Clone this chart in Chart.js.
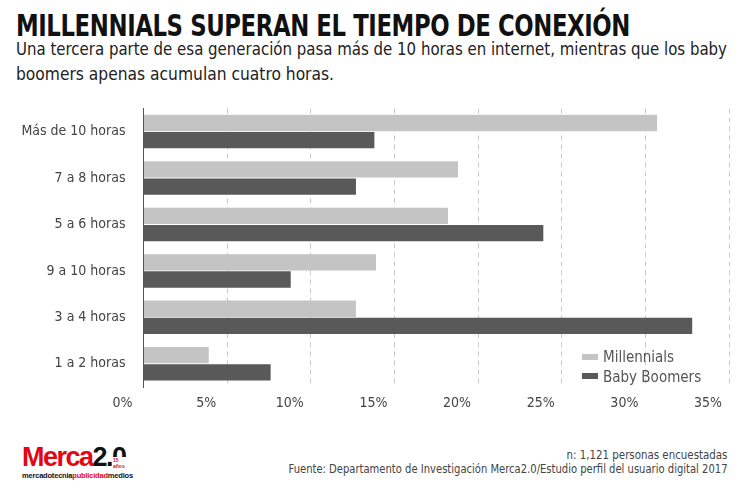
<!DOCTYPE html>
<html>
<head>
<meta charset="utf-8">
<script src="https://cdn.jsdelivr.net/npm/chart.js@4.4.1/dist/chart.umd.min.js"></script>
<style>
  body { margin: 0; background: #fff; width: 751px; height: 491px; overflow: hidden; position: relative; font-family: "DejaVu Sans Condensed", sans-serif; }
  .fit { position: absolute; white-space: nowrap; transform-origin: left top; }
  #title { left: 16px; top: 7px; font-size: 31px; font-weight: 900; color: #111; letter-spacing: -0.5px; }
  .sub { left: 16px; font-size: 18px; color: #222; }
  #wrap { position: absolute; left: 0; top: 90px; width: 751px; height: 322px; }
  #legend { position: absolute; left: 582px; top: 348px; font-family: "DejaVu Sans Condensed", sans-serif; font-size: 15px; color: #555; }
  #legend div { height: 19.5px; line-height: 19.5px; }
  #legend span { display: inline-block; width: 16px; height: 6px; margin-right: 5px; vertical-align: middle; position: relative; top: -1px; }
  .foot { right: 24px; font-size: 12.5px; color: #444; transform-origin: right top; }
  #logo { position: absolute; left: 22px; top: 444px; width: 110px; font-family: "Liberation Sans", Arial, sans-serif; }
  #logo .big { font-size: 27px; font-weight: bold; letter-spacing: -1.5px; line-height: 27px; color: #e30613; }
  #logo .big b { color: #111; }
  #logo .badge { position: absolute; left: 90px; top: 13px; font-size: 5px; font-weight: bold; color: #e30613; background: #fff; padding: 0 1px; }
  #logo .small { font-size: 7.5px; font-weight: bold; color: #111; letter-spacing: -0.2px; }
  #logo .small i { font-style: normal; color: #e30613; }
</style>
</head>
<body>
<div id="title" class="fit" data-w="614">MILLENNIALS SUPERAN EL TIEMPO DE CONEXIÓN</div>
<div class="fit sub" style="top:38px" data-w="711">Una tercera parte de esa generación pasa más de 10 horas en internet, mientras que los baby</div>
<div class="fit sub" style="top:63px" data-w="318">boomers apenas acumulan cuatro horas.</div>

<div id="wrap"><canvas id="chart"></canvas></div>

<div id="legend">
  <div><span style="background:#c4c4c4"></span>Millennials</div>
  <div><span style="background:#595959"></span>Baby Boomers</div>
</div>

<div id="logo">
  <div class="big">Merca<b>2.0</b></div>
  <div class="badge">15 años</div>
  <div class="small">mercadotecnia<i>publicidad</i>medios</div>
</div>

<div class="fit foot" style="top:447px" data-w="161">n: 1,121 personas encuestadas</div>
<div class="fit foot" style="top:461px" data-w="439">Fuente: Departamento de Investigación Merca2.0/Estudio perfil del usuario digital 2017</div>

<script>
const categories = ["Más de 10 horas", "7 a 8 horas", "5 a 6 horas", "9 a 10 horas", "3 a 4 horas", "1 a 2 horas"];
const millennials = [30.7, 18.8, 18.2, 13.9, 12.7, 3.9];
const babyBoomers = [13.8, 12.7, 23.9, 8.8, 32.8, 7.6];
const xTicks = [0, 5, 10, 15, 20, 25, 30, 35];

// squeeze the text to the widths measured on the picture
document.querySelectorAll('.fit').forEach(el => {
  const target = parseFloat(el.dataset.w);
  const w = el.getBoundingClientRect().width;
  el.style.transform = 'scaleX(' + (target / w) + ')';
});

const labelFont = "'DejaVu Sans Condensed', sans-serif";

const ctx = document.getElementById('chart').getContext('2d');
new Chart(ctx, {
  type: 'bar',
  data: {
    labels: categories,
    datasets: [
      { label: 'Millennials', data: millennials, backgroundColor: '#c4c4c4' },
      { label: 'Baby Boomers', data: babyBoomers, backgroundColor: '#595959' }
    ]
  },
  options: {
    indexAxis: 'y',
    responsive: true,
    maintainAspectRatio: false,
    animation: false,
    layout: { padding: { top: 11, right: 18, left: 0, bottom: 0 } },
    datasets: { bar: { categoryPercentage: 0.74, barPercentage: 0.95 } },
    plugins: { legend: { display: false }, tooltip: { enabled: false } },
    scales: {
      x: {
        min: 0,
        max: 35,
        afterBuildTicks: (scale) => { scale.ticks = xTicks.map(v => ({ value: v })); },
        afterFit: (scale) => { scale.height = 25; },
        grid: { color: '#c8c8c8', lineWidth: 1, drawTicks: false },
        border: { display: false, dash: [5, 4] },
        ticks: {
          callback: (v) => v + '%',
          color: '#444',
          padding: 8,
          labelOffset: -21,
          font: { family: labelFont, size: 14 }
        }
      },
      y: {
        afterFit: (scale) => { scale.width = 143.5; },
        grid: { display: false },
        border: { display: true, color: '#555', width: 1 },
        ticks: {
          color: '#444',
          padding: 10,
          font: { family: labelFont, size: 14 }
        }
      }
    }
  }
});
</script>
</body>
</html>
